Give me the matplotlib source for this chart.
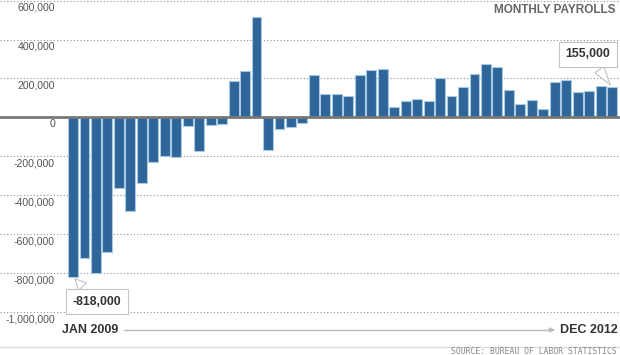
import matplotlib
matplotlib.use("Agg")
import matplotlib.pyplot as plt
from matplotlib.lines import Line2D
from matplotlib.transforms import offset_copy

plt.rcParams['font.family'] = ['Liberation Sans', 'DejaVu Sans']

# ---- data ----
months = [f"{m} {y}" for y in (2009, 2010, 2011, 2012)
          for m in ("JAN", "FEB", "MAR", "APR", "MAY", "JUN",
                    "JUL", "AUG", "SEP", "OCT", "NOV", "DEC")]
payrolls = [-818000, -724000, -799000, -692000, -361000, -482000,
            -339000, -231000, -199000, -202000, -42000, -171000,
            -40000, -35000, 189000, 239000, 516000, -167000,
            -58000, -51000, -27000, 220000, 121000, 120000,
            110000, 220000, 246000, 251000, 54000, 84000,
            96000, 85000, 202000, 112000, 157000, 223000,
            275000, 259000, 143000, 68000, 87000, 45000,
            181000, 192000, 132000, 137000, 161000, 155000]
ytick_values = [600000, 400000, 200000, 0, -200000, -400000,
                -600000, -800000, -1000000]
ytick_labels = ["600,000", "400,000", "200,000", "0", "-200,000",
                "-400,000", "-600,000", "-800,000", "-1,000,000"]
title = "MONTHLY PAYROLLS"
first_label = "-818,000"
last_label = "155,000"
start_label = "JAN 2009"
end_label = "DEC 2012"
source = "SOURCE: BUREAU OF LABOR STATISTICS"

# ---- figure ----
W, H = 620, 355
fig = plt.figure(figsize=(W / 100, H / 100), dpi=100)
fig.patch.set_facecolor("white")
ax = fig.add_axes([0, 1 - 320 / H, 1, 320 / H])
ax.set_axis_off()

x = list(range(len(payrolls)))
ax.bar(x, payrolls, width=0.86, color="#2f6699", edgecolor="#a7c9e2",
       linewidth=0.8, zorder=2)
ax.set_xlim(-73 / 11.47, (W - 73) / 11.47)
ax.set_ylim(-1040000, 603000)

for v in ytick_values:
    if v != 0:
        ax.axhline(v, color="#8f8f8f", lw=0.8, ls=(0, (1, 2)), zorder=1)
ax.axhline(0, color="#787878", lw=2, zorder=3)

lab_tr = offset_copy(ax.get_yaxis_transform(), fig=fig, x=0, y=-7, units="dots")
for v, t in zip(ytick_values, ytick_labels):
    ax.text(55 / W, v, t, transform=lab_tr, ha="right", va="center",
            fontsize=7.6, color="#555555")

box = dict(boxstyle="square,pad=0.55", fc="white", ec="#c4c4c4", lw=0.8)
wedge = dict(arrowstyle="wedge,tail_width=0.9,shrink_factor=0.5",
             fc="white", ec="#c4c4c4", lw=0.8)
ax.annotate(last_label, xy=(x[-1], payrolls[-1]), xytext=(-24, 33),
            textcoords="offset pixels", ha="center", va="center",
            fontsize=8.8, fontweight="bold", color="#333333",
            bbox=box, arrowprops=wedge, zorder=5)
ax.annotate(first_label, xy=(x[0], payrolls[0]), xytext=(24, -25),
            textcoords="offset pixels", ha="center", va="center",
            fontsize=8.8, fontweight="bold", color="#333333",
            bbox=box, arrowprops=wedge, zorder=5)

fig.text(616 / W, 1 - 10 / H, title, ha="right", va="center",
         fontsize=8.5, fontweight="bold", color="#666666")

fig.text(62 / W, 1 - 330 / H, start_label, ha="left", va="center",
         fontsize=9, fontweight="bold", color="#333333")
fig.text(618 / W, 1 - 330 / H, end_label, ha="right", va="center",
         fontsize=9, fontweight="bold", color="#333333")
fig.add_artist(Line2D([124 / W, 550 / W], [1 - 330 / H, 1 - 330 / H],
                      transform=fig.transFigure, color="#bbbbbb", lw=1))
ax.annotate("", xy=(558, H - 330), xytext=(545, H - 330),
            xycoords="figure pixels", textcoords="figure pixels",
            arrowprops=dict(arrowstyle="-|>", color="#bbbbbb", lw=1,
                            mutation_scale=7))

fig.add_artist(Line2D([0, 1], [8 / H, 8 / H], transform=fig.transFigure,
                      color="#dddddd", lw=1))
fig.text(617 / W, 3.5 / H, source, ha="right", va="center",
         fontsize=5.8, family="DejaVu Sans Mono", color="#888888")

fig.savefig("out.png", dpi=100, facecolor="white")
